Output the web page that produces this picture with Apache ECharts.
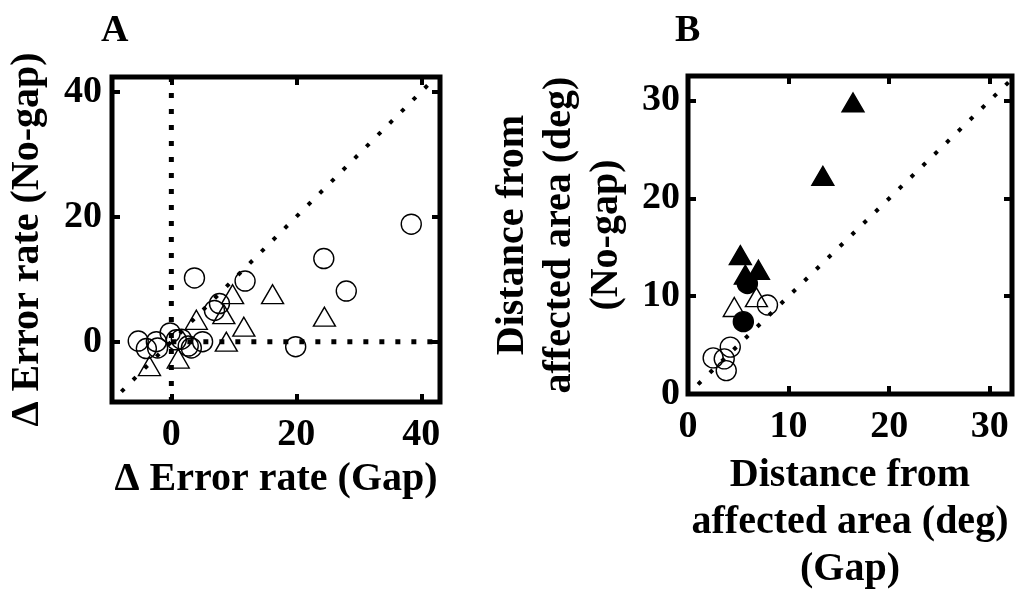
<!DOCTYPE html>
<html>
<head>
<meta charset="utf-8">
<script src="https://cdn.jsdelivr.net/npm/echarts@6/dist/echarts.min.js"></script>
<style>
  html, body { margin: 0; padding: 0; background: #fff; }
  #chart-container { width: 1019px; height: 598px; }
</style>
</head>
<body>
<div id="chart-container"></div>
<script>
// Panel A: change in error rate, gap (x) vs no-gap (y)
let circlesA = [
    [38.4, 18.8], [24.4, 13.3], [28.0, 8.1], [19.9, -0.8], [3.7, 10.2],
    [11.8, 9.7], [7.7, 6.1], [6.9, 5.0], [-5.3, 0.1], [-4.0, -1.1],
    [-2.4, 0.0], [-2.2, -1.0], [-0.2, 1.4], [0.8, 0.3], [1.6, 0.4],
    [2.7, -0.7], [3.2, -1.0], [5.0, 0.0]
];
let trianglesA = [
    [9.8, 7.6], [16.2, 7.6], [4.0, 3.5], [8.4, 4.4], [11.6, 2.4],
    [8.8, 0.0], [24.5, 4.0], [-3.5, -3.9], [1.1, -2.7]
];
let diagonalA = [[-8, -8], [42, 42]];
let zeroVerticalA = [[0, -9.65], [0, 42.35]];
let zeroHorizontalA = [[0, 0], [43, 0]];
let ticksA = [0, 20, 40];

// Panel B: distance from affected area (deg), gap (x) vs no-gap (y)
let filledTrianglesB = [[16.4, 29.8], [13.4, 22.3], [5.2, 14.2], [7.0, 12.7], [5.7, 12.2]];
let filledCirclesB = [[5.9, 11.3], [5.5, 7.4]];
let openTrianglesB = [[4.6, 8.9], [6.8, 9.9]];
let openCirclesB = [[7.9, 9.1], [4.2, 4.8], [2.5, 3.7], [3.6, 3.6], [3.8, 2.4]];
let diagonalB = [[1, 1], [32, 32]];
let ticksB = [0, 10, 20, 30];

let dom = document.getElementById('chart-container');
let myChart = echarts.init(dom, null, { renderer: 'canvas' });

let font = 'Liberation Serif';
let textStyle = { color: '#000', fontFamily: font, fontWeight: 'bold', fontSize: 38 };

function makeAxis(opts) {
    let main = opts.main;
    return {
        type: 'value',
        gridIndex: opts.grid,
        position: opts.position,
        min: opts.min,
        max: opts.max,
        splitLine: { show: false },
        axisLine: { show: false, onZero: false },
        axisTick: {
            show: true,
            inside: true,
            length: 8,
            customValues: opts.ticks,
            lineStyle: { color: '#000', width: 4 }
        },
        axisLabel: main ? Object.assign({
            customValues: opts.ticks,
            margin: opts.margin,
            lineHeight: 40
        }, textStyle) : { show: false },
        name: main ? opts.name : '',
        nameLocation: 'middle',
        nameGap: opts.nameGap,
        nameTextStyle: Object.assign({}, textStyle, { fontSize: 40, lineHeight: opts.lineHeight || 40 })
    };
}

function scatter(data, symbol, filled, xi, yi) {
    return {
        type: 'scatter',
        xAxisIndex: xi,
        yAxisIndex: yi,
        data: data,
        symbol: symbol,
        symbolSize: symbol === 'triangle' ? [22, 19] : 20,
        itemStyle: {
            color: filled ? '#000' : 'rgba(0,0,0,0)',
            borderColor: '#000',
            borderWidth: 1.4,
            opacity: 1
        },
        z: 3
    };
}

function dotted(data, width, dash, xi, yi) {
    return {
        type: 'line',
        xAxisIndex: xi,
        yAxisIndex: yi,
        data: data,
        symbol: 'none',
        silent: true,
        lineStyle: { color: '#000', width: width, type: dash, cap: 'butt' },
        z: 2
    };
}

let option = {
    animation: false,
    backgroundColor: '#fff',
    title: [
        { text: 'A', left: 96, top: 6, textStyle: Object.assign({ lineHeight: 40 }, textStyle) },
        { text: 'B', left: 670, top: 6, textStyle: Object.assign({ lineHeight: 40 }, textStyle) }
    ],
    grid: [
        { left: 112, top: 77, width: 328, height: 325, show: true, borderColor: '#000', borderWidth: 5 },
        { left: 688, top: 76, width: 324, height: 326, show: true, borderColor: '#000', borderWidth: 5 }
    ],
    xAxis: [
        makeAxis({ main: true, grid: 0, position: 'bottom', min: -9.5, max: 43, ticks: ticksA,
            margin: 13, name: 'Δ Error rate (Gap)', nameGap: 53 }),
        makeAxis({ main: false, grid: 0, position: 'top', min: -9.5, max: 43, ticks: ticksA }),
        makeAxis({ main: true, grid: 1, position: 'bottom', min: 0, max: 32.2, ticks: ticksB,
            margin: 13, name: 'Distance from\naffected area (deg)\n(Gap)', nameGap: 52, lineHeight: 47 }),
        makeAxis({ main: false, grid: 1, position: 'top', min: 0, max: 32.2, ticks: ticksB })
    ],
    yAxis: [
        makeAxis({ main: true, grid: 0, position: 'left', min: -9.65, max: 42.35, ticks: ticksA,
            margin: 10, name: 'Δ Error rate (No-gap)', nameGap: 64 }),
        makeAxis({ main: false, grid: 0, position: 'right', min: -9.65, max: 42.35, ticks: ticksA }),
        makeAxis({ main: true, grid: 1, position: 'left', min: 0, max: 32.5, ticks: ticksB,
            margin: 8, name: 'Distance from\naffected area (deg)\n(No-gap)', nameGap: 58, lineHeight: 47 }),
        makeAxis({ main: false, grid: 1, position: 'right', min: 0, max: 32.5, ticks: ticksB })
    ],
    series: [
        dotted(zeroVerticalA, 5, [5, 11], 0, 0),
        dotted(zeroHorizontalA, 5, [5, 11], 0, 0),
        dotted(diagonalA, 4, [4, 12.5], 0, 0),
        scatter(circlesA, 'circle', false, 0, 0),
        scatter(trianglesA, 'triangle', false, 0, 0),
        dotted(diagonalB, 4, [4, 12.5], 2, 2),
        scatter(openCirclesB, 'circle', false, 2, 2),
        scatter(openTrianglesB, 'triangle', false, 2, 2),
        scatter(filledCirclesB, 'circle', true, 2, 2),
        scatter(filledTrianglesB, 'triangle', true, 2, 2)
    ]
};

myChart.setOption(option);

window.addEventListener('resize', myChart.resize);
</script>
</body>
</html>
